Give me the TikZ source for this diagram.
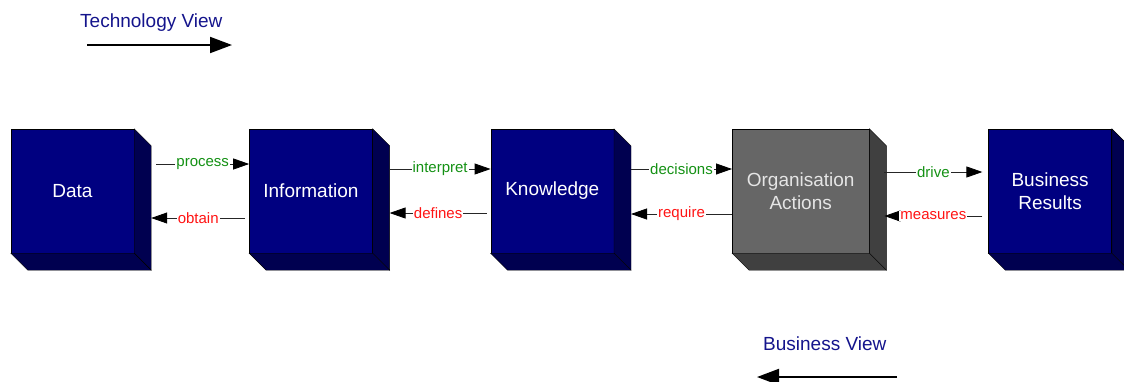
\documentclass[tikz,border=0pt]{standalone}
\usepackage{fontspec}
\setmainfont{Liberation Sans}
\usetikzlibrary{positioning,arrows.meta}
\definecolor{boxblue}{RGB}{0,0,128}
\definecolor{boxblueside}{RGB}{0,0,80}
\definecolor{actgrey}{RGB}{102,102,102}
\definecolor{actgreyside}{RGB}{64,64,64}
\definecolor{viewblue}{RGB}{20,20,140}
\definecolor{fwdgreen}{RGB}{20,145,20}
\definecolor{backred}{RGB}{255,20,20}
\begin{document}
\begin{tikzpicture}[x=1pt, y=-1pt, node distance=118pt,
    box/.style={draw=black, fill=boxblue, text=white, minimum width=123pt,
        minimum height=124pt, inner sep=0pt, align=center,
        font=\fontsize{19}{23}\selectfont},
    actbox/.style={box, fill=actgrey, text=white!90!black, minimum width=137pt},
    flow/.style={draw=black!85, line width=0.8pt,
        -{Triangle[length=16pt,width=11pt,color=black]}},
    fwd/.style={fill=white, text=fwdgreen, inner sep=1pt, font=\fontsize{15}{18}\selectfont},
    back/.style={fwd, text=backred},
    view/.style={text=viewblue, inner sep=0pt, anchor=base west, font=\fontsize{19}{22}\selectfont},
    viewarrow/.style={line width=2pt, -{Triangle[length=22pt,width=16pt]}}]
\useasboundingbox (0,0) rectangle (1124,381);

\node[view] (techview) at (80,27) {Technology View};
\coordinate (tv0) at (87,45);
\coordinate (tv1) at (232,45);
\draw[viewarrow] (tv0) -- (tv1);

\node[box] (data) at (72.5,191) {Data};
\node[box, right=115pt of data] (info) {Information};
\node[box, right=of info] (know) {Knowledge};
\node[actbox, right=of know] (act) {Organisation\\Actions};
\node[box, right=119pt of act] (result) {Business\\Results};

% depth of the boxes
\foreach \n/\c in {data/boxblueside, info/boxblueside, know/boxblueside,
    act/actgreyside, result/boxblueside} {
  \filldraw[fill=\c] (\n.north east) -- ++(17,17) -- ([shift={(17,17)}]\n.south east)
      -- (\n.south east) -- cycle;
  \filldraw[fill=\c] (\n.south west) -- ++(17,17) -- ([shift={(17,17)}]\n.south east)
      -- (\n.south east) -- cycle;
}

\draw[flow] ([xshift=22pt,yshift=27pt]data.east) -- node[fwd]{process} ([yshift=27pt]info.west);
\draw[flow] ([xshift=-4pt,yshift=-27pt]info.west) -- node[back]{obtain} ([xshift=17pt,yshift=-27pt]data.east);
\draw[flow] ([xshift=17pt,yshift=22pt]info.east) -- node[fwd]{interpret} ([yshift=22pt]know.west);
\draw[flow] ([xshift=-4pt,yshift=-22pt]know.west) -- node[back]{defines} ([xshift=17pt,yshift=-22pt]info.east);
\draw[flow] ([xshift=17pt,yshift=22pt]know.east) -- node[fwd]{decisions} ([yshift=22pt]act.west);
\draw[flow] ([yshift=-23pt]act.west) -- node[back]{require} ([xshift=17pt,yshift=-23pt]know.east);
\draw[flow] ([xshift=15pt,yshift=19pt]act.east) -- node[fwd]{drive} ([xshift=-6pt,yshift=19pt]result.west);
\draw[flow] ([xshift=-6pt,yshift=-25pt]result.west) -- node[back]{measures} ([xshift=15pt,yshift=-25pt]act.east);

\node[view] (busview) at (763,350) {Business View};
\coordinate (bv0) at (897,377);
\coordinate (bv1) at (757,377);
\draw[viewarrow] (bv0) -- (bv1);
\end{tikzpicture}
\end{document}
